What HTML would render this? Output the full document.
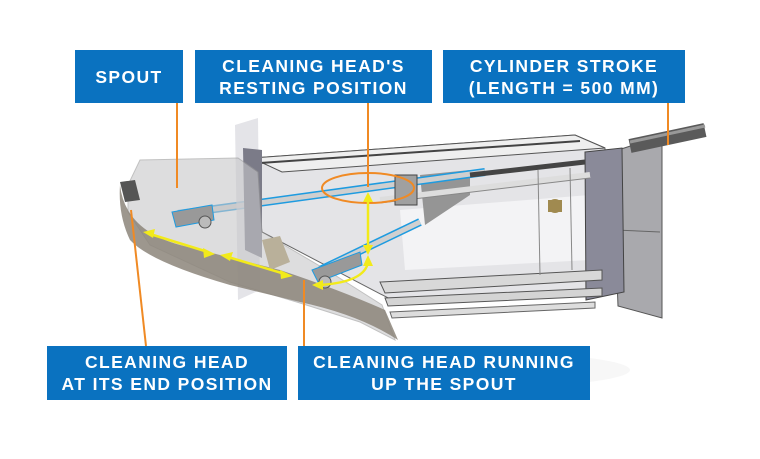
<!DOCTYPE html>
<html><head><style>
body{margin:0;background:#fff;width:760px;height:459px;overflow:hidden;position:relative;font-family:"Liberation Sans",sans-serif}
.b{position:absolute;background:#0a72c0;color:#fff;font-weight:bold;font-size:17.5px;letter-spacing:1.4px;text-align:center;display:flex;align-items:center;justify-content:center;line-height:22px}
svg{position:absolute;left:0;top:0}
</style></head><body>
<svg width="760" height="459" viewBox="0 0 760 459">
<ellipse cx="470" cy="370" rx="160" ry="18" fill="#f7f7f7"/>
<!-- far right plate -->
<polygon points="612,152 655,138 662,140 662,318 618,306" fill="#a9a9ad" stroke="#555" stroke-width="1"/>
<line x1="615" y1="230" x2="660" y2="232" stroke="#666"/>
<!-- cylinder -->
<line x1="630" y1="146" x2="705" y2="130" stroke="#5a5a5a" stroke-width="14"/>
<line x1="630" y1="142" x2="705" y2="126" stroke="#999" stroke-width="3"/>
<!-- main box -->
<polygon points="252,158 575,135 605,148 605,292 392,300 262,232" fill="#e4e4e7" stroke="#666"/>
<polygon points="252,158 575,135 605,148 282,172" fill="#efefef" stroke="#555"/>
<line x1="260" y1="163" x2="580" y2="141" stroke="#444" stroke-width="2"/>
<polygon points="400,210 590,195 590,260 405,270" fill="#f3f3f5"/>
<polygon points="420,175 470,170 470,195 425,225" fill="#959595"/>
<!-- end plate -->
<polygon points="585,152 622,148 624,292 586,300" fill="#8a8a99" stroke="#444"/>
<circle cx="555" cy="206" r="7" fill="#a08a50"/>
<rect x="548" y="200" width="14" height="12" fill="#a08a50"/>
<!-- bottom rails -->
<polygon points="380,282 602,270 602,280 385,293" fill="#d8d8d8" stroke="#555"/>
<polygon points="385,298 602,288 602,296 388,306" fill="#d4d4d4" stroke="#555"/>
<polygon points="390,312 595,302 595,308 392,318" fill="#ddd" stroke="#666"/>
<!-- rods -->
<line x1="178" y1="214" x2="485" y2="172" stroke="#1e9be0" stroke-width="8"/>
<line x1="178" y1="214" x2="485" y2="172" stroke="#cfcfcf" stroke-width="5"/>
<line x1="470" y1="175" x2="585" y2="162" stroke="#444" stroke-width="5"/>
<line x1="380" y1="200" x2="590" y2="175" stroke="#ddd" stroke-width="6"/>
<line x1="380" y1="203" x2="590" y2="178" stroke="#888" stroke-width="1"/>
<line x1="320" y1="270" x2="420" y2="222" stroke="#1e9be0" stroke-width="8"/>
<line x1="320" y1="270" x2="420" y2="222" stroke="#d0d0d0" stroke-width="5"/>
<rect x="395" y="175" width="22" height="30" fill="#a0a0a0" stroke="#444"/>
<!-- vertical plate -->
<polygon points="235,125 258,118 260,290 238,300" fill="#d9d9de" opacity="0.7"/>
<polygon points="243,148 262,150 262,258 245,250" fill="#7b7b88"/>
<line x1="538" y1="170" x2="540" y2="275" stroke="#888"/>
<line x1="570" y1="168" x2="572" y2="270" stroke="#888"/>
<!-- spout -->
<polygon points="128,185 140,160 238,158 258,172 262,232 330,272 382,305 395,340 360,322 300,303 230,282 150,245 128,212" fill="#c7c7c9" opacity="0.6" stroke="#999"/>
<path d="M120,185 Q125,230 180,245 L280,270 Q340,290 385,310 L398,340 Q360,315 300,302 L230,285 Q150,262 130,240 Q118,215 120,185Z" fill="#8c857a" opacity="0.85"/>
<path d="M120,182 L135,180 L140,200 L125,202Z" fill="#555"/>
<polygon points="262,240 280,236 290,262 270,270" fill="#b9b09a"/>
<!-- brackets -->
<polygon points="172,212 212,205 214,220 176,227" fill="#999" stroke="#1e9be0"/>
<polygon points="312,270 360,252 362,265 318,282" fill="#999" stroke="#1e9be0"/>
<circle cx="205" cy="222" r="6" fill="#bbb" stroke="#555"/>
<circle cx="325" cy="282" r="6" fill="#bbb" stroke="#555"/>
<!-- orange -->
<g stroke="#f08a24" stroke-width="2" fill="none">
<line x1="177" y1="103" x2="177" y2="188"/>
<line x1="368" y1="103" x2="368" y2="187"/>
<line x1="668" y1="103" x2="668" y2="145"/>
<line x1="131" y1="210" x2="146" y2="346"/>
<line x1="304" y1="280" x2="304" y2="346"/>
<ellipse cx="368" cy="188" rx="46" ry="15"/>
</g>
<!-- yellow arrows -->
<g stroke="#f2ea1a" stroke-width="2.5" fill="#f2ea1a">
<line x1="150" y1="234" x2="208" y2="252"/>
<polygon points="143,232 155,229 153,238" stroke="none"/>
<polygon points="215,254 203,248 204,258" stroke="none"/>
<line x1="228" y1="257" x2="285" y2="274"/>
<polygon points="220,255 233,252 230,261" stroke="none"/>
<polygon points="293,276 280,270 281,279" stroke="none"/>
<line x1="368" y1="198" x2="368" y2="248"/>
<polygon points="368,192 363,202 373,202" stroke="none"/>
<polygon points="368,255 363,245 373,245" stroke="none"/>
<path d="M368,262 Q365,282 320,285" fill="none"/>
<polygon points="368,255 363,266 373,266" stroke="none"/>
<polygon points="312,285 323,280 323,290" stroke="none"/>
</g>
</svg>
<div class="b" style="left:75px;top:50px;width:108px;height:53px">SPOUT</div>
<div class="b" style="left:195px;top:50px;width:237px;height:53px">CLEANING HEAD'S<br>RESTING POSITION</div>
<div class="b" style="left:443px;top:50px;width:242px;height:53px">CYLINDER STROKE<br>(LENGTH = 500 MM)</div>
<div class="b" style="left:47px;top:346px;width:240px;height:54px">CLEANING HEAD<br>AT ITS END POSITION</div>
<div class="b" style="left:298px;top:346px;width:292px;height:54px">CLEANING HEAD RUNNING<br>UP THE SPOUT</div>
</body></html>
